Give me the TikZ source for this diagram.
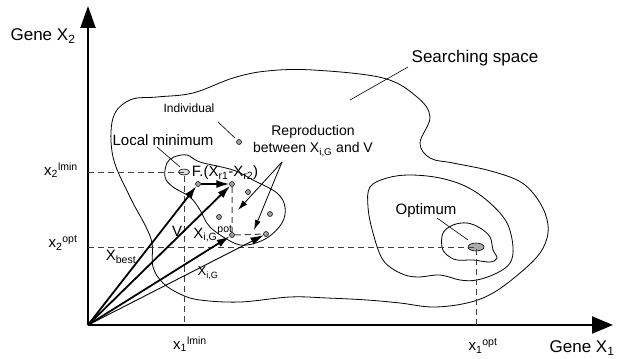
\documentclass[tikz,border=0pt]{standalone}
\usepackage{fontspec}
\setmainfont{Liberation Sans}
\usetikzlibrary{positioning,arrows.meta,shapes.geometric}
\newcommand{\mydot}[3][]{
	\node [draw, circle, fill=gray!75, inner sep=0pt, minimum size=5pt, line width=0.5pt] (#1) at (#2, #3) {};
}
\newcommand{\wvector}[3][1.8pt]
{
	% vector from the origin, filled head
	\path [draw, line width=#1, -{Latex[length=13pt,width=8pt]}] (#2) -- (#3);
}
\newcommand{\leader}[2]{
	\path [draw, line width=0.6pt] (#1) -- (#2);
}

\begin{document}
\begin{tikzpicture}[x=1pt, y=-1pt,
		lbl/.style={font=\fontsize{15}{17}\selectfont, inner sep=1pt},
		contour/.style={draw, line width=0.8pt},
		guide/.style={draw, dashed, dash pattern=on 6pt off 4pt, line width=1pt, black!75}]
		\useasboundingbox (0,0) rectangle (617,358);
		
		% contours of the search space
		\path [contour] plot [smooth cycle, tension=0.6] coordinates {(113,118) (130,100) (157,97) (193,93) (233,78) (267,71) (313,70) (383,78) (417,97) (430,117) (420,143) (430,158) (453,163) (487,170) (517,180) (533,193) (545,213) (548,233) (540,253) (520,273) (493,293) (467,303) (433,307) (400,303) (367,300) (327,298) (290,297) (240,302) (200,300) (180,294) (163,283) (153,267) (152,243) (145,225) (130,197) (113,157)};
		\path [contour] plot [smooth cycle, tension=0.6] coordinates {(370,187) (387,178) (410,175) (440,178) (467,187) (490,203) (507,223) (513,247) (510,263) (497,273) (477,280) (460,280) (440,275) (417,277) (400,273) (383,260) (373,233) (368,207)};
		\path [contour] plot [smooth cycle, tension=0.6] coordinates {(443,233) (453,225) (467,223) (480,228) (490,237) (493,250) (497,258) (490,262) (473,260) (457,260) (447,255) (442,247)};
		\path [contour] plot [smooth cycle, tension=0.6] coordinates {(167,163) (174,157) (187,155) (200,162) (233,170) (253,180) (277,193) (285,207) (282,223) (267,238) (247,245) (232,242) (210,227) (200,210) (190,197) (173,187) (165,177)};
		
		% axes
		\coordinate (O) at (88,325);
		\coordinate (ytip) at (88,6);
		\coordinate (xtip) at (613,325);
		\path [draw, line width=2pt, -{Triangle[length=22pt,width=15pt]}] (O) -- (ytip);
		\path [draw, line width=2pt, -{Triangle[length=21pt,width=17pt]}] (O) -- (xtip);
		\node [lbl, font=\fontsize{17}{19}\selectfont] (gx2) at (43,36) {Gene X\textsubscript{2}};
		\node [lbl, font=\fontsize{17}{19}\selectfont] (gx1) at (582,348) {Gene X\textsubscript{1}};
		
		% local minimum and optimum
		\node [draw, ellipse, fill=gray!25, line width=0.6pt, minimum width=11pt, minimum height=6pt, inner sep=0pt] (lmin) at (184,172) {};
		\node [draw, ellipse, fill=gray!65, line width=0.6pt, minimum width=16pt, minimum height=8pt, inner sep=0pt] (opt) at (476,247) {};
		\path [guide] (O |- lmin) -- (lmin.center) -- (lmin |- O);
		\path [guide] (O |- opt) -- (opt.center) -- (opt |- O);
		\node [lbl] (x2lmin) at (61,170) {x\textsubscript{2}\textsuperscript{lmin}};
		\node [lbl] (x2opt) at (63,243) {x\textsubscript{2}\textsuperscript{opt}};
		\node [lbl] (x1lmin) at (190,344) {x\textsubscript{1}\textsuperscript{lmin}};
		\node [lbl] (x1opt) at (483,346) {x\textsubscript{1}\textsuperscript{opt}};
		
		% individuals
		\mydot[ind]{239}{142}
		\mydot[xb]{198}{184}
		\mydot[v]{232}{184}
		\mydot[d1]{248}{192}
		\mydot[d2]{270}{214}
		\mydot[d3]{219}{217}
		\mydot[xpot]{232}{235}
		\mydot[xig]{266}{234}
		
		% crossover of the target and the mutant
		\path [guide, line width=1pt] (v) -- (xpot) -- (xig);
		
		% vectors
		\wvector{O}{xb}
		\wvector{O}{v}
		\wvector{O}{xpot}
		\wvector[0.9pt]{O}{xig}
		\path [draw, line width=1.6pt, -{Latex[length=13pt,width=8pt]}] (xb) -- (v);
		
		\node [lbl] (lxb) at (121,257) {X\textsubscript{best}};
		\node [lbl] (lv) at (177,231) {V};
		\node [lbl] (lxpot) at (213,234) {X\textsubscript{i,G}\textsuperscript{pot}};
		\node [lbl, font=\fontsize{13}{15}\selectfont] (lxig) at (208,273) {X\textsubscript{i,G}};
		\node [lbl] (lf) at (225,173) {F.(X\textsubscript{r1}-X\textsubscript{r2})};
		
		% labels with leaders
		\node [lbl, font=\fontsize{17}{19}\selectfont] (space) at (475,58) {Searching space};
		\node [lbl, font=\fontsize{12}{14}\selectfont] (indiv) at (189,108) {Individual};
		\node [lbl] (lmintxt) at (163,140) {Local minimum};
		\node [lbl] (opttxt) at (426,211) {Optimum};
		\leader{408,67}{350,100}
		\leader{218,122}{235,138}
		\leader{157,147}{180,167}
		\leader{437,218}{468,240}
		
		\node [lbl, align=center, font=\fontsize{14}{17}\selectfont] (repr) at (313,141) {Reproduction\\between X\textsubscript{i,G} and V};
		\coordinate (rs) at (282,162);
		\coordinate (r1) at (238,210);
		\coordinate (r2) at (254,230);
		\path [draw, line width=0.8pt, -{Latex[length=10pt,width=6pt]}] (rs) -- (r1);
		\path [draw, line width=0.8pt, -{Latex[length=10pt,width=6pt]}] (rs) -- (r2);
\end{tikzpicture}
\end{document}
